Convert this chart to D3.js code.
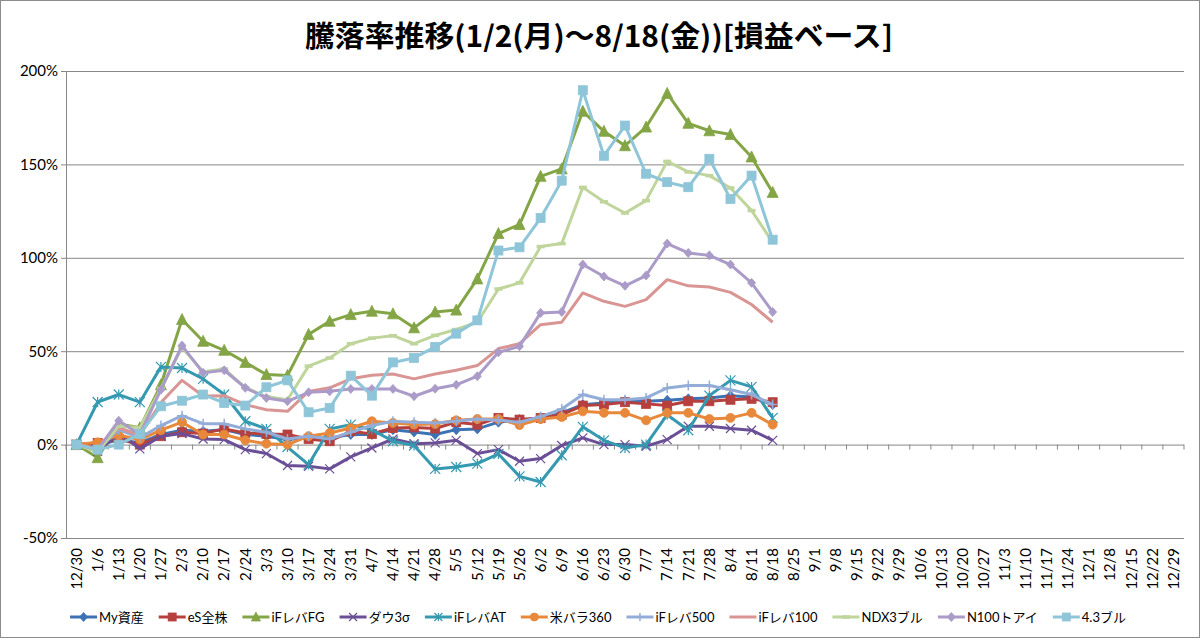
<!DOCTYPE html>
<html>
<head>
<meta charset="utf-8">
<script src="https://cdn.jsdelivr.net/npm/d3@7"></script>
<style>
  body { margin: 0; background: #fff; }
  text { font-family: Lato, "Noto Sans CJK JP", sans-serif; }
</style>
</head>
<body>
<script>
var W = 1200, H = 638;

// weekly category labels
var dates = ["12/30","1/6","1/13","1/20","1/27","2/3","2/10","2/17","2/24","3/3","3/10","3/17","3/24","3/31",
  "4/7","4/14","4/21","4/28","5/5","5/12","5/19","5/26","6/2","6/9","6/16","6/23","6/30","7/7","7/14","7/21",
  "7/28","8/4","8/11","8/18","8/25","9/1","9/8","9/15","9/22","9/29","10/6","10/13","10/20","10/27","11/3",
  "11/10","11/17","11/24","12/1","12/8","12/15","12/22","12/29"];

var yTicks = [-50, 0, 50, 100, 150, 200];

// series values (%), 12/30 .. 8/18
var myAsset  = [0,-0.5,2.7,0.9,5.4,7.7,7.1,8,5.4,4.5,2.7,3.6,3.6,5.4,5.4,8,6.8,5.4,8,8.4,12,13.4,13.7,17,21.4,22.3,23.2,23.2,23.7,24.5,25,26.2,25.5,21.4];
var esAll    = [0,0.9,3,0,4.5,6.6,5.9,8.4,6.2,5.7,5.4,3,1.8,7.1,5.7,8.9,9.2,8.6,12,10.7,14.3,13.4,14.3,16,20.9,21.4,22.7,21.8,20.9,23.2,23.2,24,24.5,22.7];
var ifFG     = [0,-7,11,9,32,67,55.3,50.5,44,37.5,37,59,66,69.6,71.4,70,62.5,71,72,88.7,113,117.8,143.6,147.6,178.4,167.7,160,170,188,172,168,166,154,135];
var dow3     = [0,-3.6,6.2,-2.3,4.5,5.9,3,2.7,-2.7,-4.8,-11.2,-11.6,-13,-6.6,-1.8,3,0.5,0.9,2.3,-4.8,-2.7,-8.9,-7.5,-0.5,3.6,0,0,-0.9,2.7,9.8,9.8,8.6,7.7,2.3];
var ifAT     = [0,22.8,26.8,22.7,41.6,41,35.2,26.8,12.5,8.4,-1.3,-10.7,8.4,10.7,8,1.8,-0.5,-13,-12,-10.2,-5,-17,-20,-5.7,9.5,2.3,-1.8,0,16,7.7,26.2,34.4,30.9,14.3];
var bara360  = [0,1.2,5,2.7,7.7,12,5.4,5.4,2.3,0.5,0,4.5,6.2,8.9,12.5,11.6,10.7,11,13,13.7,13.7,10.5,13.7,14.8,17.8,17,17,13,17,17,13.7,14.3,17,10.7];
var if500    = [0,-2.7,8,3.6,10.2,15.5,11.2,11.2,8.4,6.6,3,4.5,3,6.6,10.2,12.5,12,11.6,12.5,13.7,13,12,15,19,26.8,24,24,25,30.3,31.6,31.6,29.4,26.8,21.4];
var if100    = [0,-2,9,5,22.5,34.4,26,26.2,21.4,18.7,17.8,28.5,30.4,35.2,37.1,37.8,35.2,37.8,39.8,42.3,51.4,54,64.2,65.5,81.2,76.7,74,77.6,88.3,85,84.4,81.5,75,65.5];
var ndx3     = [0,-4,10,9,30,52,39,40.5,30.5,25.7,24,42,46.4,54,57,58.3,54,58.5,61.6,65.5,83.3,86.6,106,107.6,137.7,130,124,130.6,151.6,146,144,137.4,125.3,108.3];
var n100     = [0,-2.7,12.8,5.4,29.4,53,38.4,39.8,30.4,25,23.2,28,28.5,29.8,29.8,29.8,25.9,29.9,32,36.6,49.4,52.6,70.5,71,96.4,90,85,90.5,107.6,102.6,101.3,96.4,86.6,71];
var bull43   = [0,-2.7,0,5.7,20.5,23.5,26.8,22.3,20.9,30.7,34.4,17.3,19.6,36.9,26.2,44,46.4,52.3,59.4,66.5,103.9,105.6,121.3,141.3,189.7,154.6,170.8,145,140.5,137.8,153,131.5,144,109.7];

var seriesNames = ["My資産","eS全株","iFレバFG","ダウ3σ","iFレバAT","米バラ360","iFレバ500","iFレバ100","NDX3ブル","N100トアイ","4.3ブル"];
var seriesValues = [myAsset, esAll, ifFG, dow3, ifAT, bara360, if500, if100, ndx3, n100, bull43];
var seriesColors = ["#3d72b4","#b5403d","#84a545","#6b4f96","#3599b0","#e8883a","#93acd8","#d99593","#bfd59b","#aa9bc8","#8fc5d8"];
var seriesMarkers = ["diamond","square","triangle","x","star","circle","plus","none","dash","diamond","square"];

var svg = d3.select("body").append("svg")
    .attr("width", W)
    .attr("height", H);

svg.append("rect")
    .attr("x", 0.5).attr("y", 0.5)
    .attr("width", W - 1).attr("height", H - 1)
    .attr("fill", "#fff")
    .attr("stroke", "#8c8c8c");

svg.append("text")
    .attr("x", 599).attr("y", 47)
    .attr("text-anchor", "middle")
    .attr("textLength", 588)
    .attr("lengthAdjust", "spacingAndGlyphs")
    .style("font-family", "'Noto Sans CJK JP', sans-serif")
    .style("font-weight", "bold")
    .style("font-size", "29px")
    .text("騰落率推移(1/2(月)～8/18(金))[損益ベース]");

var plot = {left: 66, right: 1184, top: 71, bottom: 538};

var x = d3.scaleBand().domain(dates).range([plot.left, plot.right]).padding(0);
var y = d3.scaleLinear().domain([-50, 200]).range([plot.bottom, plot.top]);
var cx = function(i) { return x(dates[i]) + x.bandwidth() / 2; };

// gridlines + y labels
var yAxis = svg.append("g")
    .attr("transform", "translate(" + plot.left + ",0)")
    .call(d3.axisLeft(y).tickValues(yTicks).tickSizeInner(-(plot.right - plot.left)).tickSizeOuter(0)
      .tickFormat(function(d) { return d + "%"; }).tickPadding(8));
yAxis.select(".domain").attr("stroke", "#878787");
yAxis.selectAll(".tick line").attr("stroke", "#878787").attr("x1", -5);
yAxis.selectAll(".tick text")
    .style("font-size", "15px")
    .attr("fill", "#000");

// category axis at 0% with ticks between categories
var zeroY = y(0);
svg.append("g").selectAll("line")
    .data(dates.concat(["end"]))
    .enter().append("line")
    .attr("x1", function(d, i) { return i < dates.length ? x(d) : plot.right; })
    .attr("x2", function(d, i) { return i < dates.length ? x(d) : plot.right; })
    .attr("y1", zeroY).attr("y2", zeroY + 5)
    .attr("stroke", "#878787");

// category labels at bottom
var xAxis = svg.append("g")
    .attr("transform", "translate(0," + 548 + ")")
    .call(d3.axisBottom(x).tickSize(0).tickPadding(0));
xAxis.select(".domain").remove();
xAxis.selectAll(".tick text")
    .attr("transform", "rotate(-90)")
    .attr("text-anchor", "end")
    .attr("x", 0).attr("y", 0)
    .attr("dy", "0.35em")
    .style("font-size", "15px")
    .attr("fill", "#000");

function drawMarker(g, type, px, py, color, s) {
  var h = s / 2;
  if (type == "none") return;
  if (type == "diamond") {
    g.append("path").attr("d", "M" + px + "," + (py - h - 0.5) + "L" + (px + h) + "," + py + "L" + px + "," + (py + h + 0.5) + "L" + (px - h) + "," + py + "Z")
      .attr("fill", color).attr("stroke", color).attr("stroke-width", 0.8);
  } else if (type == "square") {
    g.append("rect").attr("x", px - h).attr("y", py - h).attr("width", s).attr("height", s)
      .attr("fill", color).attr("stroke", color).attr("stroke-width", 0.8);
  } else if (type == "triangle") {
    g.append("path").attr("d", "M" + px + "," + (py - h - 1) + "L" + (px + h + 0.5) + "," + (py + h) + "L" + (px - h - 0.5) + "," + (py + h) + "Z")
      .attr("fill", color).attr("stroke", color).attr("stroke-width", 0.8);
  } else if (type == "circle") {
    g.append("circle").attr("cx", px).attr("cy", py).attr("r", h)
      .attr("fill", color).attr("stroke", color).attr("stroke-width", 0.8);
  } else if (type == "x" || type == "star") {
    g.append("path").attr("d", "M" + (px - h) + "," + (py - h) + "L" + (px + h) + "," + (py + h) + "M" + (px - h) + "," + (py + h) + "L" + (px + h) + "," + (py - h) +
        (type == "star" ? "M" + px + "," + (py - h) + "L" + px + "," + (py + h) : ""))
      .attr("stroke", color).attr("stroke-width", 1.2).attr("fill", "none");
  } else if (type == "plus") {
    g.append("path").attr("d", "M" + (px - h) + "," + py + "L" + (px + h) + "," + py + "M" + px + "," + (py - h) + "L" + px + "," + (py + h))
      .attr("stroke", color).attr("stroke-width", 1.5).attr("fill", "none");
  } else if (type == "dash") {
    g.append("path").attr("d", "M" + (px - h) + "," + py + "L" + (px + h) + "," + py)
      .attr("stroke", color).attr("stroke-width", 3.5).attr("fill", "none");
  }
}

var markerSize = {diamond: 9, square: 9, triangle: 10, circle: 9, x: 9, star: 10, plus: 10, dash: 8, none: 0};

var line = d3.line()
    .x(function(d, i) { return cx(i); })
    .y(function(d) { return y(d); });

seriesValues.forEach(function(vals, k) {
  var g = svg.append("g");
  g.append("path")
    .datum(vals)
    .attr("d", line)
    .attr("fill", "none")
    .attr("stroke", seriesColors[k])
    .attr("stroke-width", 3)
    .attr("stroke-linejoin", "round");
  vals.forEach(function(v, i) {
    var s = markerSize[seriesMarkers[k]];
    if (k == 9) s = 8;
    drawMarker(g, seriesMarkers[k], cx(i), y(v), seriesColors[k], s);
  });
});

// legend
var legendY = 617;
var legend = svg.append("g");
var lx = 0;
seriesNames.forEach(function(name, k) {
  var g = legend.append("g").attr("transform", "translate(" + lx + ",0)");
  g.append("line").attr("x1", 0).attr("x2", 27).attr("y1", legendY).attr("y2", legendY)
    .attr("stroke", seriesColors[k]).attr("stroke-width", 3);
  drawMarker(g, seriesMarkers[k], 13.5, legendY, seriesColors[k], Math.min(markerSize[seriesMarkers[k]], 8));
  var t = g.append("text").attr("x", 29).attr("y", legendY).attr("dy", "0.36em")
    .style("font-size", "13px")
    .text(name);
  lx += 29 + t.node().getComputedTextLength() + 15;
});
var legendW = lx - 15;
legend.attr("transform", "translate(" + (598 - legendW / 2) + ",0)");
</script>
</body>
</html>
